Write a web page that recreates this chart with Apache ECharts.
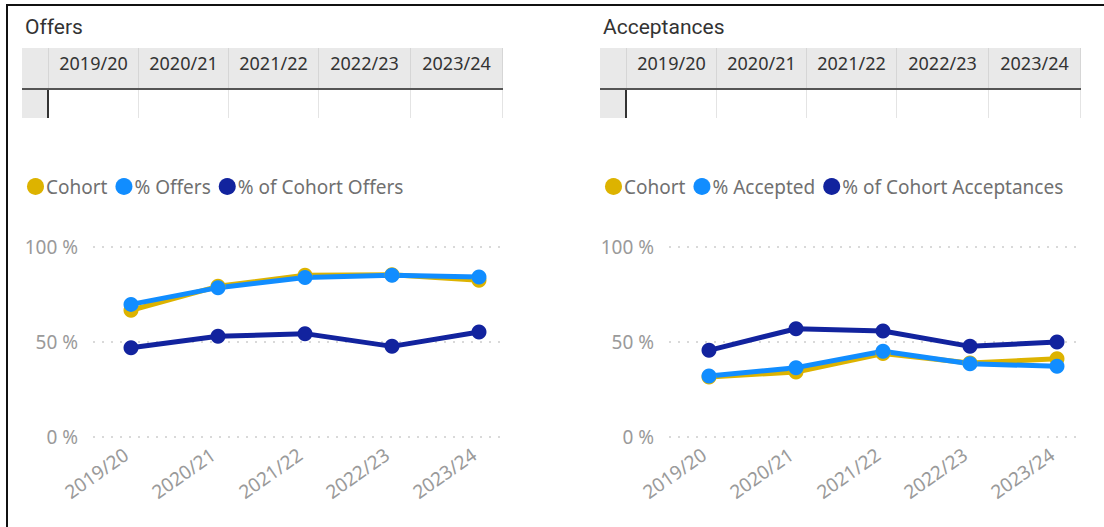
<!DOCTYPE html>
<html>
<head>
<meta charset="utf-8">
<script src="https://cdn.jsdelivr.net/npm/echarts@6/dist/echarts.min.js"></script>
<style>
  html, body { margin: 0; padding: 0; background: #fff; }
  #wrap { position: relative; width: 1104px; height: 527px; overflow: hidden; }
  #chart { position: absolute; left: 0; top: 0; width: 1104px; height: 527px; }
  .frame { position: absolute; left: 6px; top: 4px; right: 0; bottom: 0;
    border-left: 2px solid #111; border-top: 2px solid #111; pointer-events: none; }
  .tbl { position: absolute; top: 48px; font-family: "Noto Sans", sans-serif; font-size: 18px; color: #333; }
  .tbl .row { display: flex; }
  .tbl .hd div { height: 40px; line-height: 30px; background: #e9e9e9; text-align: center;
    border-right: 1px solid #d6d6d6; box-sizing: border-box; }
  .tbl .hd { border-bottom: 2px solid #555; }
  .tbl .bd div { height: 28px; border-right: 1px solid #e4e4e4; box-sizing: border-box; }
  .tbl .bd div.corner { background: #e9e9e9; border-right: 2px solid #333; }
</style>
</head>
<body>
<div id="wrap">
  <div id="chart"></div>
  <div class="tbl" id="tblOffers" style="left:22px"></div>
  <div class="tbl" id="tblAcc" style="left:600px"></div>
  <div class="frame"></div>
</div>
<script>
// years
var categories = ['2019/20', '2020/21', '2021/22', '2022/23', '2023/24']

// Offers chart (%)
var offersCohort = [66.7, 79.3, 85.1, 85.4, 82.5]
var offersPct = [69.8, 78.6, 83.9, 85.1, 84.2]
var offersCohortPct = [47.0, 53.0, 54.4, 47.7, 55.3]

// Acceptances chart (%)
var accCohort = [31.6, 34.2, 43.9, 38.9, 41.2]
var accPct = [32.1, 36.5, 45.1, 38.6, 37.2]
var accCohortPct = [45.6, 57.0, 55.8, 47.7, 50.0]

var colCohort = '#DDB300'
var colPct = '#118DFF'
var colDark = '#12239E'
var font = '"Noto Sans", sans-serif'

// header tables
function buildTable(id) {
  var el = document.getElementById(id)
  var widths = [90, 90, 90, 92, 92]
  var hd = '<div class="row hd"><div style="width:27px"></div>'
  var bd = '<div class="row bd"><div class="corner" style="width:27px"></div>'
  for (var i = 0; i < categories.length; i++) {
    hd += '<div style="width:' + widths[i] + 'px">' + categories[i] + '</div>'
    bd += '<div style="width:' + widths[i] + 'px"></div>'
  }
  el.innerHTML = hd + '</div>' + bd + '</div>'
}
buildTable('tblOffers')
buildTable('tblAcc')

function bgGrid(left) {
  return { left: left, top: 247, width: 414, height: 190 }
}
function dataGrid(left) {
  return { left: left, top: 247, width: 348, height: 190 }
}
function bgX(i) {
  return { type: 'value', gridIndex: i, min: 0, max: 1, show: false }
}
function dataX(i) {
  return {
    type: 'category', gridIndex: i, data: categories, boundaryGap: false,
    axisLine: { show: false }, axisTick: { show: false },
    axisLabel: { rotate: 35, margin: 12, fontSize: 19, color: '#9a9a9a', fontFamily: font, padding: [0, 6, 0, 0] }
  }
}
function bgY(i) {
  return {
    type: 'value', gridIndex: i, min: 0, max: 100, interval: 50,
    axisLine: { show: false }, axisTick: { show: false },
    axisLabel: { formatter: '{value} %', fontSize: 19, color: '#9a9a9a', margin: 15, fontFamily: font },
    splitLine: { lineStyle: { color: '#cdcdcd', width: 1.5, type: [2, 7] } }
  }
}
function dataY(i) {
  return { type: 'value', gridIndex: i, min: 0, max: 100, show: false }
}
function line(name, data, color, idx) {
  return {
    name: name, type: 'line', data: data, xAxisIndex: idx, yAxisIndex: idx,
    symbol: 'circle', symbolSize: 15,
    lineStyle: { color: color, width: 5 },
    itemStyle: { color: color }
  }
}
function legend(left, names) {
  return {
    left: left, top: 172, icon: 'circle', itemWidth: 17, itemHeight: 17, itemGap: 8,
    selectedMode: false,
    textStyle: { fontSize: 19, color: '#707070', fontFamily: font, padding: [0, 0, 0, -3] },
    data: names
  }
}

var chart = echarts.init(document.getElementById('chart'), null, { renderer: 'svg' })
chart.setOption({
  animation: false,
  title: [
    { text: 'Offers', left: 20, top: 11, textStyle: { fontSize: 21, fontWeight: 'normal', color: '#333', fontFamily: 'Roboto' } },
    { text: 'Acceptances', left: 598, top: 11, textStyle: { fontSize: 21, fontWeight: 'normal', color: '#333', fontFamily: 'Roboto' } }
  ],
  legend: [
    legend(22, ['Cohort', '% Offers', '% of Cohort Offers']),
    legend(600, ['Cohort', '% Accepted', '% of Cohort Acceptances'])
  ],
  grid: [bgGrid(93), dataGrid(131), bgGrid(669), dataGrid(709)],
  xAxis: [bgX(0), dataX(1), bgX(2), dataX(3)],
  yAxis: [bgY(0), dataY(1), bgY(2), dataY(3)],
  series: [
    line('Cohort', offersCohort, colCohort, 1),
    line('% Offers', offersPct, colPct, 1),
    line('% of Cohort Offers', offersCohortPct, colDark, 1),
    line('Cohort', accCohort, colCohort, 3),
    line('% Accepted', accPct, colPct, 3),
    line('% of Cohort Acceptances', accCohortPct, colDark, 3)
  ]
})
</script>
</body>
</html>
